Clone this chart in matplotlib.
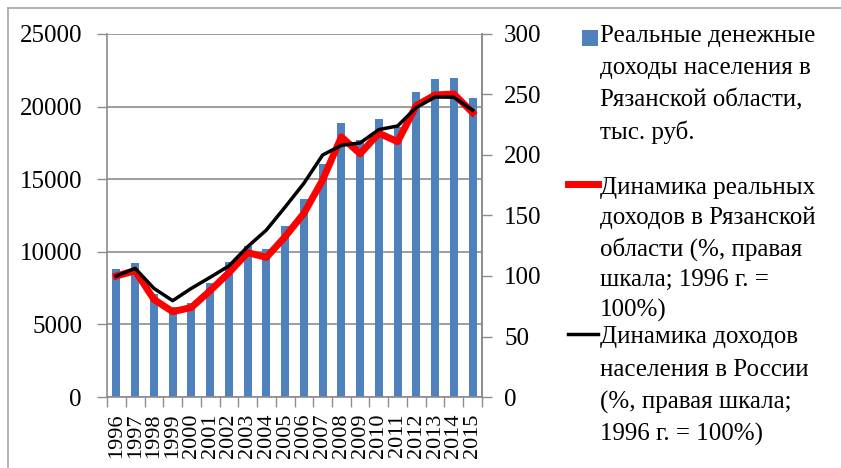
import matplotlib
matplotlib.use("Agg")
import matplotlib.pyplot as plt
from matplotlib.lines import Line2D
from matplotlib.patches import Rectangle
import numpy as np

years = [str(y) for y in range(1996, 2016)]
income_ryazan = [8800, 9200, 7100, 6200, 6500, 7870, 9270, 10420, 10190, 11780,
                 13610, 16030, 18850, 17700, 19130, 18580, 21030, 21880, 21950, 20610]
dyn_ryazan = [100, 104.4, 80.7, 70.5, 74, 87.9, 102.7, 119.3, 115.4, 132.5,
              151.8, 179.3, 215, 201, 218, 211, 241, 249.6, 250.4, 235]
dyn_russia = [100, 106.3, 89.8, 79.6, 89.8, 98.9, 108.3, 124.2, 138, 157,
              176.6, 200, 208, 210, 221, 224, 239.4, 248, 247.7, 237]

legend_lines = [
    ["Реальные денежные", "доходы населения в", "Рязанской области,", "тыс. руб."],
    ["Динамика реальных", "доходов в Рязанской", "области (%, правая", "шкала; 1996 г. =", "100%)"],
    ["Динамика доходов", "населения в России", "(%, правая шкала;", "1996 г. = 100%)"],
]

plt.rcParams['font.family'] = ['Liberation Serif', 'DejaVu Serif']

W, H = 841, 468
fig = plt.figure(figsize=(W / 100, H / 100), dpi=100)
fig.patch.set_facecolor('white')

L, R, T, B = 107, 482, 34, 397
ax = fig.add_axes([L / W, 1 - B / H, (R - L) / W, (B - T) / H])
x = np.arange(len(years))
gray = '#8c8c8c'

ax.bar(x, income_ryazan, width=0.42, color='#4F81BD', zorder=2)
ax.set_xlim(-0.5, len(years) - 0.5)
ax.set_ylim(0, 25000)
ax.set_yticks(np.arange(0, 25001, 5000))
ax.yaxis.grid(True, color=gray, linewidth=1.2, zorder=0)
ax.set_axisbelow(True)
ax.set_xticks(x)
ax.set_xticklabels(years, rotation=90, fontsize=16)
ax.set_xticks(np.arange(-0.5, len(years), 1), minor=True)
ax.tick_params(axis='x', which='major', length=0, pad=12)
ax.tick_params(axis='x', which='minor', length=7, color=gray, width=1)
ax.tick_params(axis='y', length=7, color=gray, width=1, labelsize=18, pad=11)
for s in ['left', 'bottom', 'right']:
    ax.spines[s].set_color(gray)
    ax.spines[s].set_linewidth(1.2)
ax.spines['top'].set_visible(False)

ax2 = ax.twinx()
ax2.plot(x, dyn_ryazan, color='#FF0000', linewidth=5, zorder=3, solid_joinstyle='round')
ax2.plot(x, dyn_russia, color='black', linewidth=2.5, zorder=4)
ax2.set_ylim(0, 300)
ax2.set_yticks(np.arange(0, 301, 50))
ax2.tick_params(axis='y', length=7, color=gray, width=1, labelsize=18, pad=9)
for s in ['left', 'bottom', 'top']:
    ax2.spines[s].set_visible(False)
ax2.spines['right'].set_color(gray)
ax2.spines['right'].set_linewidth(1.2)

# legend built manually
def fx(px):
    return px / W

def fy(py):
    return 1 - py / H

line_y = [[36, 68, 100, 132], [188, 218, 249, 280, 310], [337, 370, 402, 434]]
for entry, ys in zip(legend_lines, line_y):
    for txt, yy in zip(entry, ys):
        fig.text(fx(600), fy(yy), txt, fontsize=18, va='center', ha='left')

fig.add_artist(Rectangle((fx(582), fy(46)), 16 / W, 16 / H, facecolor='#4F81BD',
                         edgecolor='none', transform=fig.transFigure))
fig.add_artist(Line2D([fx(568), fx(598)], [fy(184), fy(184)], color='#FF0000',
                      linewidth=5, transform=fig.transFigure))
fig.add_artist(Line2D([fx(568), fx(598)], [fy(334), fy(334)], color='black',
                      linewidth=2.5, transform=fig.transFigure))

# partial frame
fig.add_artist(Line2D([fx(8), fx(841)], [fy(8), fy(8)], color='#a6a6a6',
                      linewidth=1.2, transform=fig.transFigure))
fig.add_artist(Line2D([fx(8), fx(8)], [fy(8), fy(468)], color='#a6a6a6',
                      linewidth=1.2, transform=fig.transFigure))

fig.savefig('out.png', dpi=100)
